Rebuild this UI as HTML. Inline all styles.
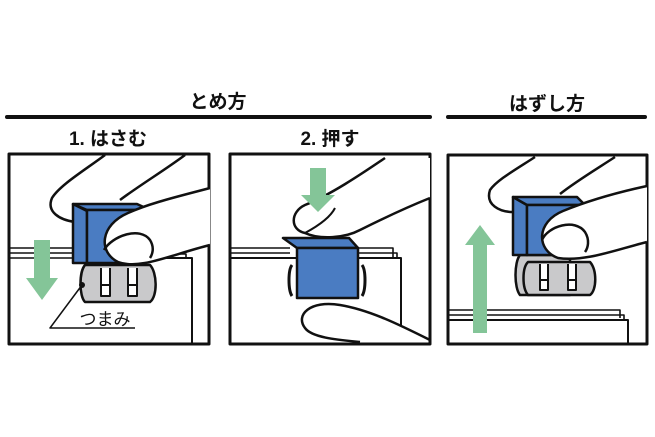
<!DOCTYPE html>
<html><head><meta charset="utf-8"><style>
html,body{margin:0;padding:0;background:#fff;width:655px;height:437px;overflow:hidden}
svg{display:block}
text{font-family:"Liberation Sans","Noto Sans CJK JP",sans-serif;font-weight:bold;fill:#111}
</style></head><body>
<svg width="655" height="437" viewBox="0 0 655 437" xmlns="http://www.w3.org/2000/svg">
<g stroke="#111" stroke-width="4" stroke-linecap="round">
<line x1="7" y1="117" x2="430" y2="117"/>
<line x1="448" y1="117" x2="645" y2="117"/>
</g>
<text x="218" y="108" font-size="19" text-anchor="middle">とめ方</text>
<text x="547" y="110" font-size="19" text-anchor="middle">はずし方</text>
<text x="108" y="145" font-size="19" text-anchor="middle">1. はさむ</text>
<text x="330" y="145" font-size="19" text-anchor="middle">2. 押す</text>

<!-- Panel 1 -->
<g fill="none" stroke="#111" stroke-width="2.5" stroke-linejoin="round">
<rect x="9" y="154" width="200" height="190" fill="#fff" stroke-width="3"/>
<path d="M10 248 H80 M10 253 H80 M10 258 H80" stroke-width="1.6"/>
<path d="M150 258 H192 V344" stroke-width="2"/>
<path d="M150 254 H186 V258" stroke-width="1.6"/>
<path d="M105 155 C85 170 60 185 52 198 C46 212 60 220 75 222" fill="#fff"/>
<path d="M185 155 C165 170 140 185 120 200" />
<path d="M85 265 H150 C157 272 158 296 150 302 H85 C79 296 79 272 85 265Z" fill="#c9c9cb"/>
<path d="M101 268 V296 H110 V268 M128 268 V296 H137 V268" stroke-width="2" fill="#fff"/>
<path d="M101 285 H110 M128 285 H137" stroke-width="2"/>
<path d="M73 204 L87 211 V263 H73 Z" fill="#4a7cc2"/>
<path d="M73 204 H137 L150 210 H87 Z" fill="#4a7cc2"/>
<rect x="87" y="210" width="50" height="53" fill="#4a7cc2"/>
<path d="M210 188 C180 196 150 203 128 213 C100 225 98 252 118 262 C140 270 170 255 210 245 Z" fill="#fff" stroke="none"/>
<path d="M210 188 C180 196 150 203 128 213 C100 225 98 252 118 262 C140 270 170 255 210 245"/>
<path d="M104 250 C112 236 140 226 150 240 C155 248 152 255 150 258"/>
<path d="M34 240 H50 V278 H58 L42 300 L26 278 H34 Z" fill="#84c598" stroke="none"/>
<circle cx="82" cy="285" r="3" fill="#111" stroke="none"/>
<path d="M82 285 L50 328 H135" stroke-width="1.5"/>
</g>
<text x="105" y="325" font-size="17" text-anchor="middle" style="font-weight:normal">つまみ</text>

<!-- Panel 2 -->
<g fill="none" stroke="#111" stroke-width="2.5" stroke-linejoin="round">
<rect x="230" y="154" width="200" height="190" fill="#fff" stroke-width="3"/>
<path d="M231 248 H290 M231 253 H290 M231 258 H290" stroke-width="1.6"/>
<path d="M356 248 H393 V258 M356 253 H397 V258" stroke-width="1.6"/>
<path d="M231 258 H401 V330" stroke-width="2"/>
<path d="M385 158 C360 175 330 195 305 205 C290 212 290 230 305 233 C320 240 350 238 360 230 C380 222 405 210 430 198 V158 Z" fill="#fff" stroke="none"/>
<path d="M385 158 C360 175 330 195 305 205 C290 212 290 230 305 233 C320 240 345 238 360 230 C380 220 405 208 430 198"/>
<path d="M305 233 C318 226 330 218 335 208" stroke-width="2"/>
<path d="M283 238 H349 L358 248 H297 Z" fill="#4a7cc2"/>
<path d="M292 265 C288 270 288 290 292 296 M362 265 C366 270 366 290 362 296" stroke-width="3"/>
<rect x="297" y="248" width="61" height="50" fill="#4a7cc2"/>
<path d="M430 340 C400 325 370 310 340 305 C310 300 295 315 305 328 C312 338 340 340 360 342" fill="#fff"/>
<path d="M310 168 H326 V195 H335 L318 212 L301 195 H310 Z" fill="#84c598" stroke="none"/>
</g>

<!-- Panel 3 -->
<g fill="none" stroke="#111" stroke-width="2.5" stroke-linejoin="round">
<rect x="448" y="155" width="199" height="189" fill="#fff" stroke-width="3"/>
<path d="M449 310 H620 V318 M449 315 H624 V320" stroke-width="1.6"/>
<path d="M449 320 H628 V344" stroke-width="2"/>
<path d="M535 157 C515 170 497 180 490 190 C485 205 500 212 513 212" fill="#fff"/>
<path d="M615 157 C595 170 575 182 560 194"/>
<path d="M520 255 H570 V295 H520 C514 288 514 262 520 255Z" fill="#c9c9cb"/>
<path d="M528 262 H590 C597 270 597 290 590 295 H528 C522 288 522 268 528 262Z" fill="#c9c9cb"/>
<path d="M540 264 V290 H548 V264 M568 264 V290 H576 V264 M540 280 H548 M568 280 H576" stroke-width="2" fill="#fff"/>
<path d="M513 197 L527 205 V255 H513 Z" fill="#4a7cc2"/>
<path d="M513 197 H577 L585 205 H527 Z" fill="#4a7cc2"/>
<rect x="527" y="205" width="56" height="50" fill="#4a7cc2"/>
<path d="M647 186 C610 194 585 202 563 211 C536 222 536 250 558 258 C585 262 615 250 647 242 Z" fill="#fff" stroke="none"/>
<path d="M647 186 C610 194 585 202 563 211 C536 222 536 250 558 258 C585 262 615 250 647 242"/>
<path d="M542 240 C548 226 575 218 585 232 C590 240 588 248 585 252"/>
<path d="M473 333 V245 H465 L480 225 L495 245 H487 V333 Z" fill="#84c598" stroke="none"/>
</g>
</svg>
</body></html>
